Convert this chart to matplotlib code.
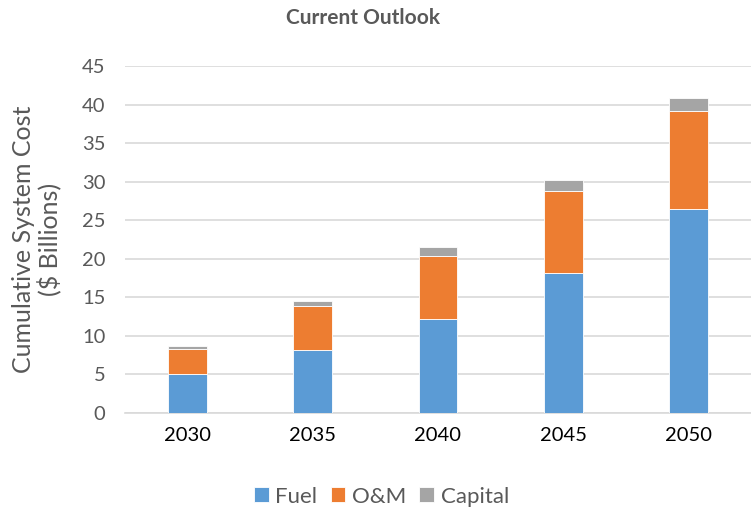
import matplotlib
matplotlib.use("Agg")
import matplotlib.pyplot as plt
import numpy as np

years = ["2030", "2035", "2040", "2045", "2050"]
fuel = [5.0, 8.2, 12.2, 18.1, 26.5]
om = [3.3, 5.7, 8.2, 10.7, 12.7]
capital = [0.35, 0.65, 1.1, 1.4, 1.7]
series_names = ["Fuel", "O&M", "Capital"]
colors = ["#5B9BD5", "#ED7D31", "#A5A5A5"]

plt.rcParams["font.family"] = ["Lato", "DejaVu Sans"]

fig = plt.figure(figsize=(7.51, 5.12), dpi=100)
ax = fig.add_axes([0.1664, 0.1934, 0.8336, 0.6776])

x = np.arange(len(years))
w = 0.31
bottom = np.zeros(len(years))
handles = []
for vals, name, c in zip([fuel, om, capital], series_names, colors):
    b = ax.bar(x, vals, w, bottom=bottom, color=c, label=name, zorder=3,
               edgecolor="white", linewidth=0.6)
    handles.append(b)
    bottom += np.array(vals)

ax.set_xlim(-0.5, 4.5)
ax.set_ylim(0, 45)
ax.set_yticks(np.arange(0, 46, 5))
ax.set_xticks(x)
ax.set_xticklabels(years)
ax.grid(axis="y", color="#D9D9D9", linewidth=1.2, zorder=0)
for s in ["top", "right", "left"]:
    ax.spines[s].set_visible(False)
ax.spines["bottom"].set_color("#D9D9D9")
ax.spines["bottom"].set_linewidth(1.2)
ax.tick_params(axis="both", length=0, labelsize=14.5)
ax.tick_params(axis="y", colors="#595959", pad=14)
ax.tick_params(axis="x", colors="#000000", pad=10)

ax.set_ylabel("Cumulative System Cost\n($ Billions)", fontsize=18, color="#595959",
              labelpad=15, linespacing=1.05)

fig.text(0.484, 0.965, "Current Outlook", ha="center", va="center", fontsize=15,
         fontweight="bold", color="#595959")

fig.legend(handles=handles, labels=series_names, loc="center", ncol=3,
           bbox_to_anchor=(0.508, 0.03), frameon=False, fontsize=16,
           handlelength=0.65, handleheight=0.65, handletextpad=0.3,
           columnspacing=0.6, labelcolor="#595959")

fig.savefig("out.png", dpi=100)
